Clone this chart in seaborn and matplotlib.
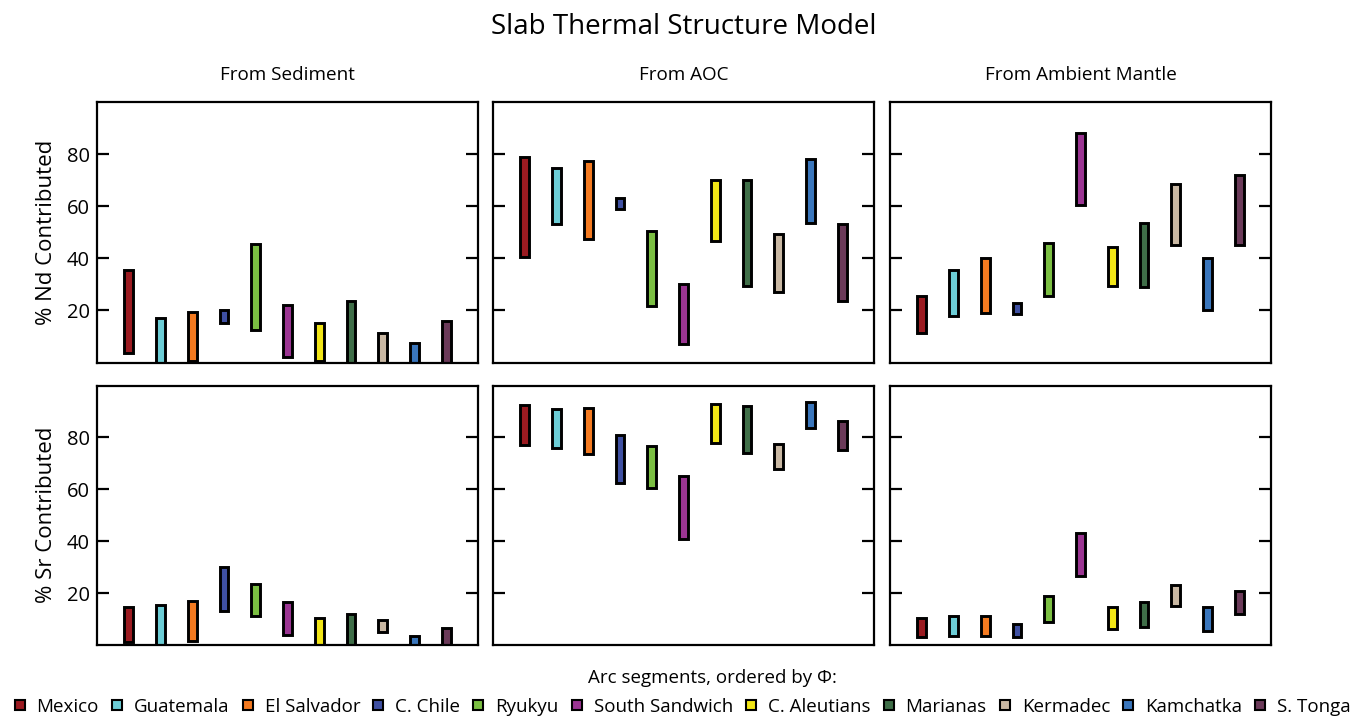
import numpy as np
import pandas as pd
import matplotlib
matplotlib.use("Agg")
import matplotlib.pyplot as plt
from matplotlib.lines import Line2D
import seaborn as sns

# Arc segments, ordered by Phi, and their colours
segments = ["Mexico", "Guatemala", "El Salvador", "C. Chile", "Ryukyu",
            "South Sandwich", "C. Aleutians", "Marianas", "Kermadec",
            "Kamchatka", "S. Tonga"]
segment_colors = ["#9b1b21", "#6ccdd6", "#f47a20", "#3f50a2", "#7bbf42",
                  "#9b3592", "#f2e616", "#3f6e48", "#c9b8a3", "#3a76bc",
                  "#6b3a59"]

sources = ["From Sediment", "From AOC", "From Ambient Mantle"]
isotope_labels = ["% Nd Contributed", "% Sr Contributed"]

# Ranges of % Nd contributed (low / high) for each source
nd_sediment_low = [3.5, 0, 0.5, 15, 12.5, 2, 0.5, 0, 0, 0, 0]
nd_sediment_high = [35.5, 17, 19.5, 20, 45.5, 22, 15, 23.8, 11.2, 7.4, 15.8]
nd_aoc_low = [40.5, 53, 47.5, 59, 21.5, 7, 46.5, 29.5, 27, 53.5, 23.5]
nd_aoc_high = [79, 74.5, 77.5, 63, 50.5, 30, 70, 70, 49.5, 78, 53]
nd_mantle_low = [11.5, 18, 19, 18.5, 25.5, 60.5, 29.5, 29, 45, 20, 45]
nd_mantle_high = [25.5, 35.5, 40, 23, 46, 88, 44.5, 53.5, 68.5, 40, 72]

# Ranges of % Sr contributed (low / high) for each source
sr_sediment_low = [1, 0, 1.5, 13, 11, 4, 0, 0, 5, 0, 0]
sr_sediment_high = [14.5, 15.5, 17, 30, 23.5, 16.5, 10.5, 12, 9.5, 3.5, 6.5]
sr_aoc_low = [77, 76, 73.5, 62.5, 60.5, 41, 78, 74, 68, 83.5, 75]
sr_aoc_high = [92.5, 91, 91.5, 81, 76.5, 65, 93, 92, 77.5, 93.5, 86.5]
sr_mantle_low = [3, 3.5, 3.5, 3, 9, 26.5, 6, 7, 15, 5.5, 12]
sr_mantle_high = [10.5, 11, 11, 8, 19, 43, 14.5, 16.5, 23, 14.5, 21]

ranges = [
    [(nd_sediment_low, nd_sediment_high), (nd_aoc_low, nd_aoc_high),
     (nd_mantle_low, nd_mantle_high)],
    [(sr_sediment_low, sr_sediment_high), (sr_aoc_low, sr_aoc_high),
     (sr_mantle_low, sr_mantle_high)],
]

sns.set_theme(style="white")
plt.rcParams["font.family"] = ["Open Sans", "DejaVu Sans"]
plt.rcParams.update({"text.color": "black", "axes.labelcolor": "black",
                     "xtick.color": "black", "ytick.color": "black"})

W, H = 1360, 718
fig = plt.figure(figsize=(W / 100, H / 100), dpi=100)

col_left = [97, 493, 890]
col_width = 381
row_top = [102, 385.5]
row_height = [260.5, 259.5]

for r in range(2):
    for c in range(3):
        ax = fig.add_axes([col_left[c] / W,
                           1 - (row_top[r] + row_height[r]) / H,
                           col_width / W,
                           row_height[r] / H])
        low, high = ranges[r][c]
        df = pd.DataFrame({"segment": segments,
                           "span": np.array(high) - np.array(low)})
        sns.barplot(data=df, x="segment", y="span", order=segments,
                    bottom=low, width=0.27, errorbar=None, color="black",
                    saturation=1, facecolor=segment_colors,
                    edgecolor="black", linewidth=2.1, ax=ax)
        ax.set_xlim(-1, 11)
        ax.set_ylim(0, 100)
        ax.set_xlabel("")
        ax.set_ylabel("")
        ax.set_xticks([])
        ax.set_yticks([20, 40, 60, 80])
        ax.tick_params(axis="y", direction="in", length=8.5, width=1.6,
                       left=True, right=True, labelleft=(c == 0),
                       labelsize=14.5, pad=5, color="black")
        for sp in ax.spines.values():
            sp.set_visible(True)
            sp.set_linewidth(1.6)
            sp.set_color("black")
        if r == 0:
            ax.text(0.5, 1 + 27 / row_height[r], sources[c],
                    transform=ax.transAxes, ha="center", va="center",
                    fontsize=13.6)
        if c == 0:
            ax.set_ylabel(isotope_labels[r], fontsize=16, labelpad=7)

fig.text(684 / W, 1 - 27 / H, "Slab Thermal Structure Model",
         ha="center", va="center", fontsize=20)

fig.text(712 / W, 1 - 678 / H, "Arc segments, ordered by \u03a6:",
         ha="center", va="center", fontsize=13.5)

handles = [Line2D([], [], marker="s", linestyle="none", markersize=6.5,
                  markerfacecolor=col, markeredgecolor="black",
                  markeredgewidth=1.5) for col in segment_colors]
fig.legend(handles, segments, loc="center", ncol=11,
           bbox_to_anchor=(682 / W, 1 - 707 / H), frameon=False,
           handlelength=0.7, handletextpad=0.55, columnspacing=0.62,
           fontsize=13.5, borderaxespad=0, borderpad=0)

fig.savefig("out.png", dpi=100)
